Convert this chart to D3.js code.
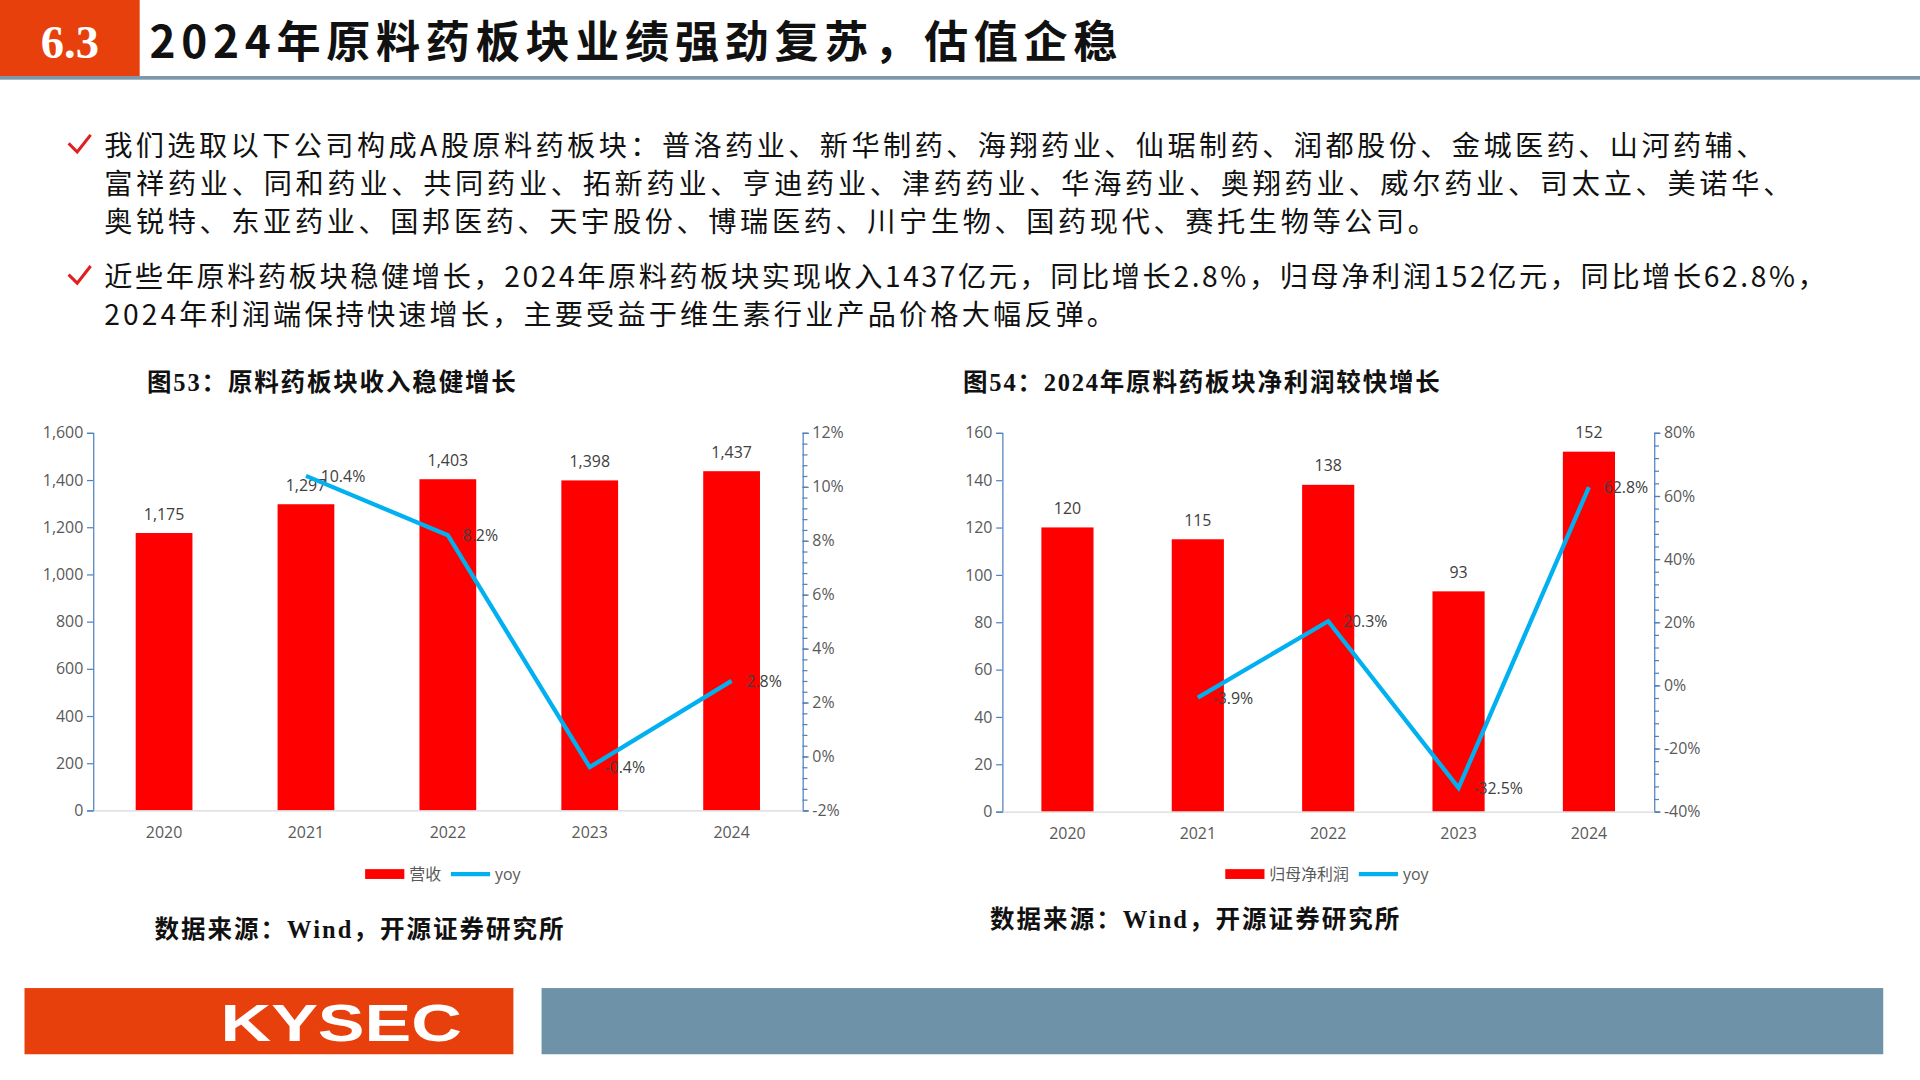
<!DOCTYPE html>
<html><head><meta charset="utf-8">
<script src="https://cdn.jsdelivr.net/npm/d3@7"></script>
<style>body{margin:0;background:#fff}svg{display:block}</style>
</head><body>
<svg id="c" width="1920" height="1080" viewBox="0 0 1567 881" preserveAspectRatio="none"></svg>
<script>
const years = ["2020", "2021", "2022", "2023", "2024"]
const revenue = [1175, 1297, 1403, 1398, 1437]
const revenueYoy = [null, 10.4, 8.2, -0.4, 2.8]
const profit = [120, 115, 138, 93, 152]
const profitYoy = [null, -3.9, 20.3, -32.5, 62.8]
const revTicks = [0, 200, 400, 600, 800, 1000, 1200, 1400, 1600]
const revYoyTicks = [-2, 0, 2, 4, 6, 8, 10, 12]
const profTicks = [0, 20, 40, 60, 80, 100, 120, 140, 160]
const profYoyTicks = [-40, -20, 0, 20, 40, 60, 80]

const svg = d3.select("#c")
const CJK = "'Noto Sans CJK SC', sans-serif"
const SERIF = "'Liberation Serif', 'Noto Sans CJK SC', serif"
const NUM = "'Open Sans', 'Noto Sans', sans-serif"

// header
svg.append("rect").attr("x", 0).attr("y", 0).attr("width", 114).attr("height", 63).attr("fill", "#e8400c")
svg.append("text").attr("x", 57).attr("y", 47).attr("text-anchor", "middle").attr("fill", "#fff")
  .attr("font-family", SERIF).attr("font-weight", "bold").attr("font-size", 38).text("6.3")
svg.append("text").attr("x", 122).attr("y", 47).attr("font-family", CJK).attr("font-weight", "bold")
  .attr("font-size", 36).attr("fill", "#111").attr("textLength", 790).attr("lengthAdjust", "spacing")
  .text("2024年原料药板块业绩强劲复苏，估值企稳")
svg.append("rect").attr("x", 0).attr("y", 62).attr("width", 1567).attr("height", 3).attr("fill", "#7f97aa")

// bullets
const bullets = [
  [119, ["我们选取以下公司构成A股原料药板块：普洛药业、新华制药、海翔药业、仙琚制药、润都股份、金城医药、山河药辅、",
    "富祥药业、同和药业、共同药业、拓新药业、亨迪药业、津药药业、华海药业、奥翔药业、威尔药业、司太立、美诺华、",
    "奥锐特、东亚药业、国邦医药、天宇股份、博瑞医药、川宁生物、国药现代、赛托生物等公司。"], [1355, 1377, 1087]],
  [226, ["近些年原料药板块稳健增长，2024年原料药板块实现收入1437亿元，同比增长2.8%，归母净利润152亿元，同比增长62.8%，",
    "2024年利润端保持快速增长，主要受益于维生素行业产品价格大幅反弹。"], [1405, 825]]
]
bullets.forEach(([y0, lines, widths]) => {
  svg.append("path").attr("d", `M56,${y0 - 2} L63,${y0 + 5} L74,${y0 - 9}`).attr("fill", "none")
    .attr("stroke", "#e02020").attr("stroke-width", 2.5)
  lines.forEach((t, i) => {
    svg.append("text").attr("x", 85).attr("y", y0 + 8 + i * 31).attr("font-family", CJK)
      .attr("font-size", 23).attr("fill", "#111")
      .attr("textLength", widths[i]).attr("lengthAdjust", "spacing").text(t)
  })
})

function chart(o) {
  const g = svg.append("g")
  const x = d3.scaleBand().domain(years).range([o.x0, o.x1]).paddingInner(0.6).paddingOuter(0.3)
  const y = d3.scaleLinear().domain([o.ticks[0], o.ticks[o.ticks.length - 1]]).range([o.yb, o.yt])
  const y2 = d3.scaleLinear().domain([o.ticks2[0], o.ticks2[o.ticks2.length - 1]]).range([o.yb, o.yt])
  const axisCol = "#4f81bd"

  g.append("text").attr("x", o.titleX).attr("y", 319).attr("font-family", SERIF).attr("font-weight", "bold")
    .attr("font-size", 20).attr("fill", "#111").attr("textLength", o.titleW).attr("lengthAdjust", "spacing").text(o.title)

  g.selectAll(".bar").data(o.vals).enter().append("rect")
    .attr("x", (d, i) => x(years[i])).attr("width", x.bandwidth())
    .attr("y", d => y(d)).attr("height", d => o.yb - y(d)).attr("fill", "#ff0000")
  g.selectAll(".bl").data(o.vals).enter().append("text")
    .attr("x", (d, i) => x(years[i]) + x.bandwidth() / 2).attr("y", d => y(d) - 11)
    .attr("text-anchor", "middle").attr("font-family", NUM).attr("font-size", 13)
    .attr("fill", "#404040").text(d => d3.format(",")(d))

  g.append("g").attr("transform", `translate(${o.x0},0)`)
    .call(d3.axisLeft(y).tickValues(o.ticks).tickSize(5).tickFormat(d3.format(",")))
  g.append("g").attr("transform", `translate(${o.x1},0)`)
    .call(d3.axisRight(y2).tickValues(o.ticks2).tickSize(5).tickFormat(d => d + "%"))
  const minor = d3.range(o.ticks2[0], o.ticks2[o.ticks2.length - 1] + 1e-9, o.minor)
  g.append("g").attr("transform", `translate(${o.x1},0)`)
    .call(d3.axisRight(y2).tickValues(minor).tickSize(4).tickFormat(""))
    .select(".domain").remove()
  const bx = g.append("g").attr("transform", `translate(0,${o.yb})`).call(d3.axisBottom(x).tickSize(0).tickPadding(13))
  g.selectAll(".tick line, .domain").attr("stroke", axisCol)
  bx.select(".domain").attr("stroke", "#d9d9d9")
  g.selectAll("text").filter(function () { return this.parentNode.classList.contains("tick") })
    .attr("font-family", NUM).attr("font-size", 13).attr("fill", "#595959")

  const pts = o.yoy.map((v, i) => [v, i]).filter(d => d[0] !== null)
  const line = d3.line().x(d => x(years[d[1]]) + x.bandwidth() / 2).y(d => y2(d[0]))
  g.append("path").datum(pts).attr("d", line).attr("fill", "none").attr("stroke", "#00b0f0").attr("stroke-width", 3.5)
  g.selectAll(".yl").data(pts).enter().append("text")
    .attr("x", d => x(years[d[1]]) + x.bandwidth() / 2 + 12).attr("y", d => y2(d[0]) + 5)
    .attr("font-family", NUM).attr("font-size", 13).attr("fill", "#404040")
    .text(d => d[0].toFixed(1) + "%")

  // legend
  const lg = g.append("g").attr("transform", `translate(${o.legX},713)`)
  lg.append("rect").attr("x", 0).attr("y", -4).attr("width", 32).attr("height", 8).attr("fill", "#ff0000")
  lg.append("text").attr("x", 36).attr("y", 5).attr("font-family", CJK).attr("font-size", 13).attr("fill", "#595959").text(o.legName)
  const lx = 36 + o.legName.length * 13 + 8
  lg.append("line").attr("x1", lx).attr("x2", lx + 32).attr("y1", 0).attr("y2", 0).attr("stroke", "#00b0f0").attr("stroke-width", 3.5)
  lg.append("text").attr("x", lx + 36).attr("y", 5).attr("font-family", NUM).attr("font-size", 13).attr("fill", "#595959").text("yoy")

  g.append("text").attr("x", o.srcX).attr("y", o.srcY).attr("font-family", SERIF).attr("font-weight", "bold")
    .attr("font-size", 20).attr("fill", "#111").attr("textLength", 334).attr("lengthAdjust", "spacing")
    .text("数据来源：Wind，开源证券研究所")
}

chart({ x0: 76, x1: 655, yt: 353, yb: 661, vals: revenue, yoy: revenueYoy, ticks: revTicks, ticks2: revYoyTicks,
  minor: 0.4, title: "图53：原料药板块收入稳健增长", titleX: 120, titleW: 301, legX: 298, legName: "营收", srcX: 126, srcY: 765 })
chart({ x0: 818, x1: 1350, yt: 353, yb: 662, vals: profit, yoy: profitYoy, ticks: profTicks, ticks2: profYoyTicks,
  minor: 4, title: "图54：2024年原料药板块净利润较快增长", titleX: 786, titleW: 389, legX: 1000, legName: "归母净利润", srcX: 808, srcY: 757 })

// footer
svg.append("rect").attr("x", 20).attr("y", 806).attr("width", 399).attr("height", 54).attr("fill", "#e8400c")
svg.append("text").attr("x", 180).attr("y", 849).attr("fill", "#fff")
  .attr("font-family", "'Liberation Sans', Arial, sans-serif").attr("font-weight", "bold").attr("font-size", 42)
  .attr("textLength", 197).attr("lengthAdjust", "spacingAndGlyphs").text("KYSEC")
svg.append("rect").attr("x", 442).attr("y", 806).attr("width", 1095).attr("height", 54).attr("fill", "#6e93a8")
</script>
</body></html>
